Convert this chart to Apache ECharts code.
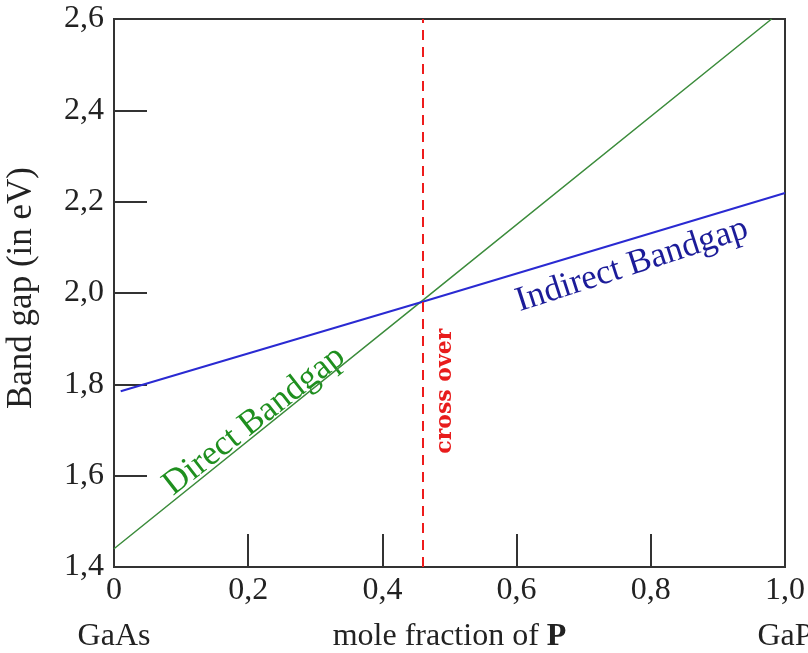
<!DOCTYPE html>
<html>
<head>
<meta charset="utf-8">
<script src="https://cdn.jsdelivr.net/npm/echarts@6/dist/echarts.min.js"></script>
<style>
html,body{margin:0;padding:0;background:#fff;}
#chart{width:808px;height:653px;}
</style>
</head>
<body>
<div id="chart"></div>
<script>
// ---- data ----
var directX = [0, 0.46, 0.98];
var directY = [1.44, 1.984, 2.60];
var indirectX = [0.01, 0.46, 1.0];
var indirectY = [1.785, 1.981, 2.219];
var crossoverX = 0.46;

var xTickLabels = ['0', '0,2', '0,4', '0,6', '0,8', '1,0'];
var yTickLabels = ['1,4', '1,6', '1,8', '2,0', '2,2', '2,4', '2,6'];
var xEndNames = ['GaAs', 'GaP'];

var xMin = 0, xMax = 1, xStep = 0.2;
var yMin = 1.4, yMax = 2.6, yStep = 0.2;

function pairs(xs, ys) { return xs.map(function (x, i) { return [x, ys[i]]; }); }

var serif = 'Liberation Serif';
var slab = 'DejaVu Serif';
var axisColor = '#333333';
var textColor = '#222222';

var chart = echarts.init(document.getElementById('chart'), null, {renderer: 'canvas'});

var option = {
  animation: false,
  backgroundColor: '#ffffff',
  grid: {left: 114, top: 19, right: 23, bottom: 86, containLabel: false, outerBoundsMode: 'none',
         show: true, borderColor: axisColor, borderWidth: 2, backgroundColor: 'transparent'},
  xAxis: {
    type: 'value', min: xMin, max: xMax, interval: xStep,
    axisLine: {show: true, lineStyle: {color: axisColor, width: 2}},
    axisTick: {show: true, inside: true, length: 33, lineStyle: {color: axisColor, width: 2}},
    splitLine: {show: false},
    axisLabel: {
      margin: 1,
      formatter: function (v) {
        var i = Math.round((v - xMin) / xStep);
        var s = '{v|' + xTickLabels[i] + '}';
        if (i === 0) s += '\n{n|' + xEndNames[0] + '}';
        if (i === xTickLabels.length - 1) s += '\n{n|' + xEndNames[1] + '}';
        return s;
      },
      rich: {
        v: {fontFamily: serif, fontSize: 32, color: textColor, lineHeight: 46},
        n: {fontFamily: serif, fontSize: 32, color: textColor, lineHeight: 46}
      }
    },
    name: '{a|mole fraction of }{b|P}',
    nameLocation: 'middle',
    nameGap: 54,
    nameMoveOverlap: false,
    nameTextStyle: {
      rich: {
        a: {fontFamily: serif, fontSize: 32, color: textColor, lineHeight: 32},
        b: {fontFamily: serif, fontSize: 32, fontWeight: 'bold', color: textColor, lineHeight: 32}
      }
    }
  },
  yAxis: {
    type: 'value', min: yMin, max: yMax, interval: yStep,
    axisLine: {show: true, lineStyle: {color: axisColor, width: 2}},
    axisTick: {show: true, inside: true, length: 33, lineStyle: {color: axisColor, width: 2}},
    splitLine: {show: false},
    axisLabel: {
      margin: 10, fontFamily: serif, fontSize: 32, color: textColor,
      formatter: function (v) {
        var i = Math.round((v - yMin) / yStep);
        return yTickLabels[i];
      }
    },
    name: 'Band gap (in eV)',
    nameLocation: 'middle',
    nameRotate: 90,
    nameGap: 75,
    nameMoveOverlap: false,
    nameTextStyle: {fontFamily: serif, fontSize: 35, color: textColor, padding: [0, 0, 0, 10]}
  },
  series: [
    {
      name: 'Direct Bandgap', type: 'line', data: pairs(directX, directY),
      symbol: 'none', lineStyle: {color: '#3c8c3c', width: 1.5},
      markLine: {
        silent: true, symbol: 'none', label: {show: false},
        lineStyle: {color: '#ee1c1c', width: 2, type: [10, 7]},
        data: [{xAxis: crossoverX}]
      }
    },
    {
      name: 'Indirect Bandgap', type: 'line', data: pairs(indirectX, indirectY),
      symbol: 'none', lineStyle: {color: '#2a2ad2', width: 2}
    }
  ]
};
chart.setOption(option);

// annotations anchored in data space
var ann = [
  {text: 'Direct Bandgap', at: [0.209, 1.72], rot: 38, family: serif, size: 35, weight: 'normal', fill: '#1f8f1f'},
  {text: 'Indirect Bandgap', at: [0.772, 2.061], rot: 18, family: serif, size: 35, weight: 'normal', fill: '#1c1c99'},
  {text: 'cross over', at: [0.493, 1.785], rot: 90, family: slab, size: 22, weight: 'bold', fill: '#e81c1c'}
];
var graphics = ann.map(function (a) {
  var p = chart.convertToPixel({gridIndex: 0}, a.at);
  return {
    type: 'text', x: p[0], y: p[1], rotation: a.rot * Math.PI / 180,
    style: {text: a.text, fontFamily: a.family, fontSize: a.size, fontWeight: a.weight,
            fill: a.fill, align: 'center', verticalAlign: 'middle'}
  };
});
chart.setOption({graphic: graphics});
</script>
</body>
</html>
